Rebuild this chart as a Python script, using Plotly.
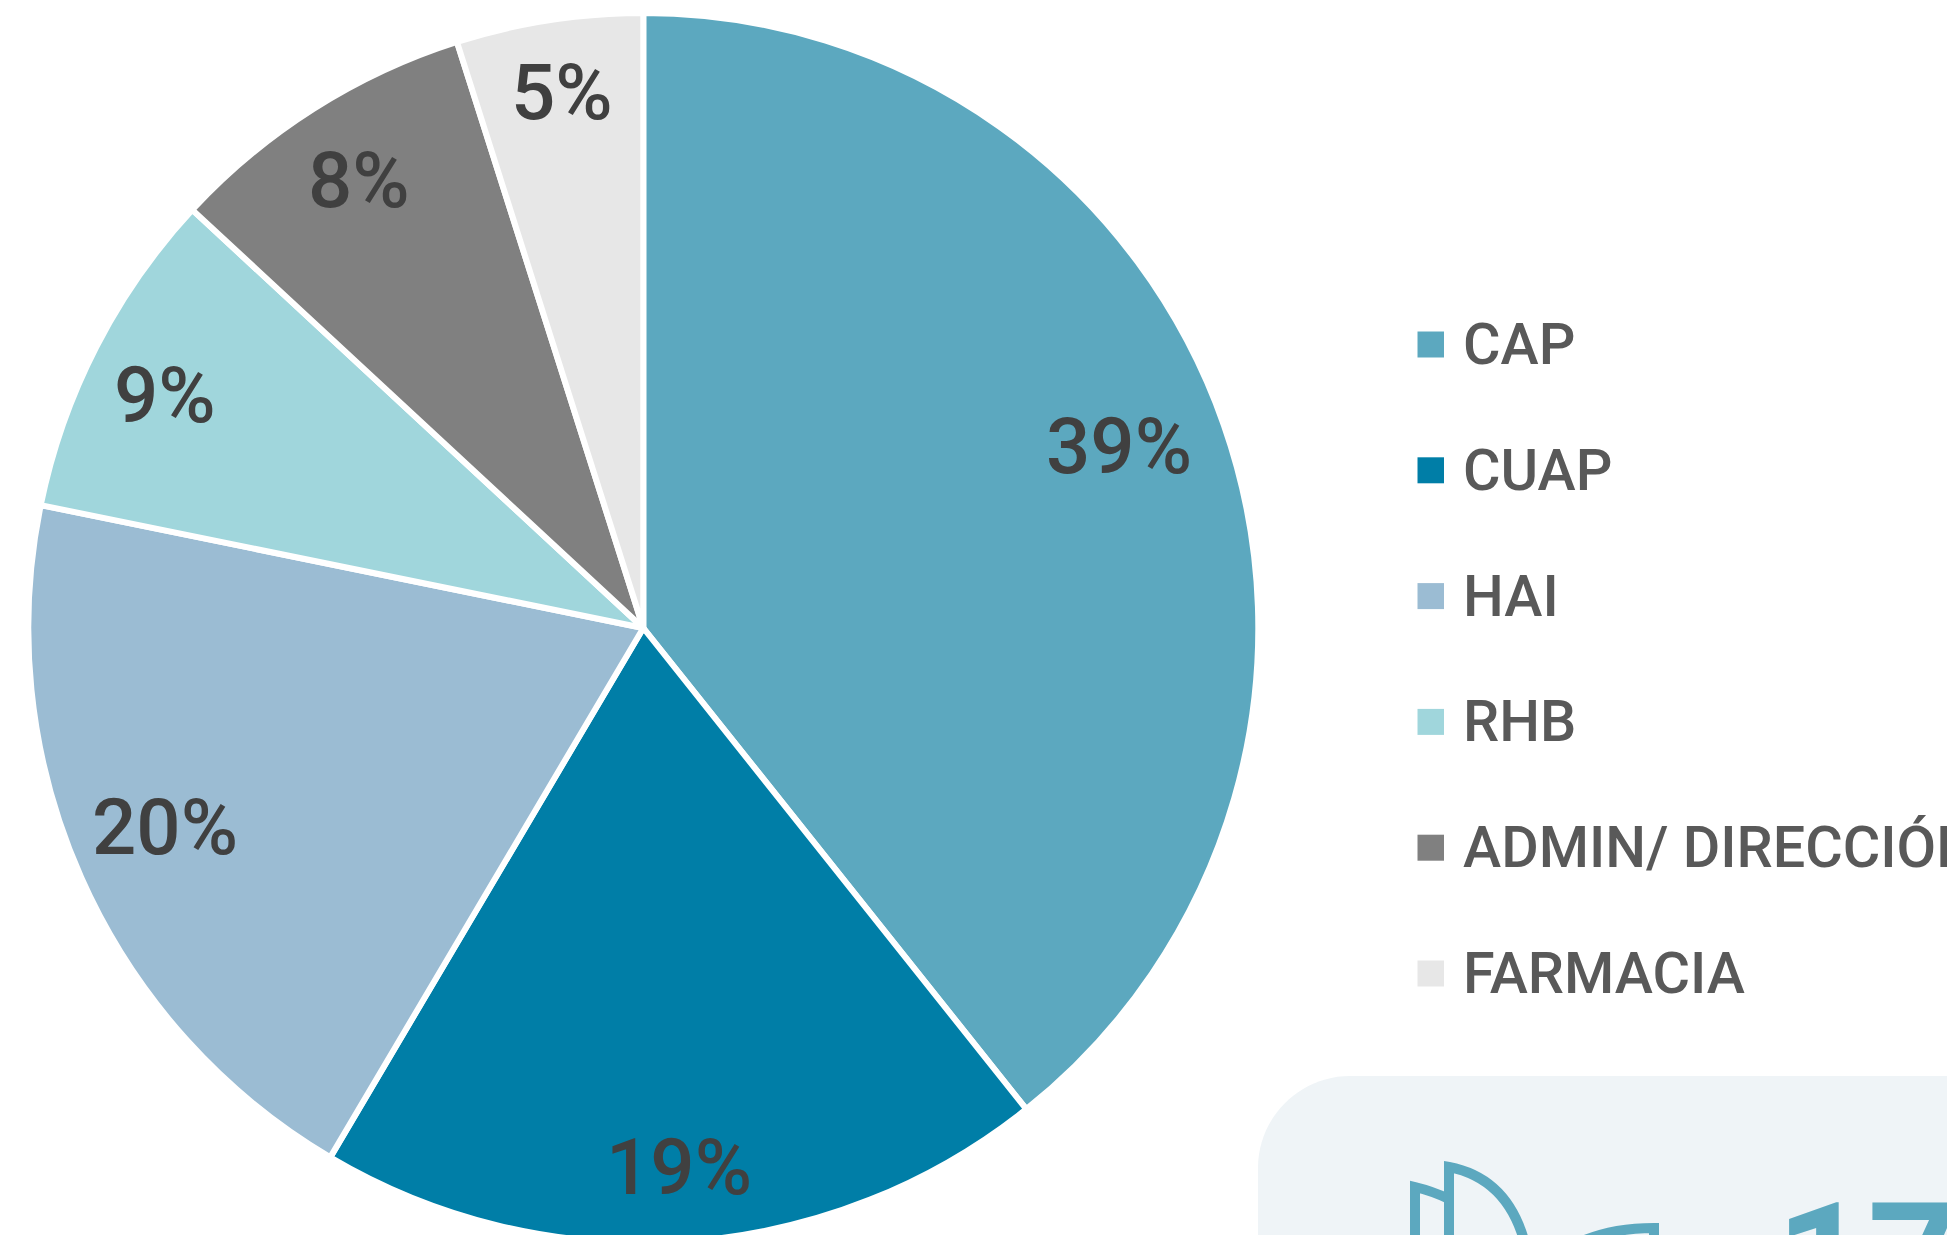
import plotly.graph_objects as go

categories = ["CAP", "CUAP", "HAI", "RHB", "ADMIN/ DIRECCIÓN", "FARMACIA"]
values = [39.3, 19.2, 19.7, 8.7, 8.2, 4.9]
pct_labels = ["39%", "19%", "20%", "9%", "8%", "5%"]
colors = ["#5CA8BF", "#007EA7", "#9BBCD3", "#A0D6DC", "#808080", "#E7E7E7"]

W, H = 1947, 1260
cx, cy, r = 643.3, 628, 615
def px(x): return x / W
def py(y): return 1 - y / H

label_pos = [(1119, 446), (679, 1167), (165, 827), (165, 395), (359, 181), (562, 93)]

fig = go.Figure(go.Pie(
    labels=categories, values=values, sort=False, direction="clockwise", rotation=0,
    marker=dict(colors=colors, line=dict(color="white", width=6)),
    textinfo="none", hoverinfo="label+percent", showlegend=False,
    domain=dict(x=[px(cx - r), px(cx + r)], y=[py(cy + r), py(cy - r)]),
))

shapes = []
annotations = []
for txt, (x, y) in zip(pct_labels, label_pos):
    annotations.append(dict(x=px(x), y=py(y), xref="paper", yref="paper", text=txt, showarrow=False,
                            xanchor="center", yanchor="middle",
                            font=dict(family="Roboto", size=78, color="#404040", weight=500)))
for i, (name, col) in enumerate(zip(categories, colors)):
    yc = 344.5 + i * 125.8
    shapes.append(dict(type="rect", xref="paper", yref="paper", x0=px(1417.5), x1=px(1444),
                       y0=py(yc - 13), y1=py(yc + 13), fillcolor=col, line=dict(width=0)))
    annotations.append(dict(x=px(1461), y=py(yc), xref="paper", yref="paper", text=name, showarrow=False,
                            xanchor="left", yanchor="middle",
                            font=dict(family="Roboto", size=57.5, color="#595959", weight=500)))

def P(x, y): return f"{px(x):.5f},{py(y):.5f}"
# rounded panel at lower right
R = 92
K = 0.45 * R
X0, Y0 = 1258, 1076
panel = (f"M{P(X0, H)} L{P(X0, Y0 + R)} C{P(X0, Y0 + K)} {P(X0 + K, Y0)} {P(X0 + R, Y0)} L{P(W, Y0)} L{P(W, H)} Z")
shapes.append(dict(type="path", xref="paper", yref="paper", path=panel, fillcolor="#EFF4F7", line=dict(width=0), layer="below"))
# partially visible icon
stroke = dict(color="#5CA8BF", width=10)
for path in [
    f"M{P(1415, H)} L{P(1415, 1187)} Q{P(1432, 1191)} {P(1449, 1199)}",
    f"M{P(1449, H)} L{P(1449, 1167)} Q{P(1506, 1178)} {P(1524, 1240)}",
    f"M{P(1585, 1240)} Q{P(1615, 1228)} {P(1654, 1228)} L{P(1654, H)}",
]:
    shapes.append(dict(type="path", xref="paper", yref="paper", path=path, line=stroke))
annotations.append(dict(x=px(1774), y=py(1166), xref="paper", yref="paper", text="<b>17</b>", showarrow=False,
                        xanchor="left", yanchor="top",
                        font=dict(family="Roboto", size=160, color="#5CA8BF")))

fig.update_layout(width=W, height=H, margin=dict(l=0, r=0, t=0, b=0), paper_bgcolor="white",
                  shapes=shapes, annotations=annotations)
fig.write_html("out.html", config=dict(displayModeBar=False),
               post_script="document.documentElement.style.overflow='hidden';document.body.style.margin='0';document.body.style.overflow='hidden';")
